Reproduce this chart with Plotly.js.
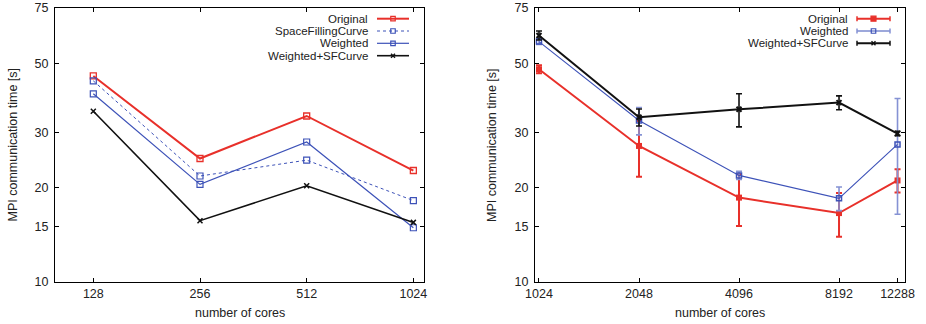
<!DOCTYPE html>
<html>
<head>
<meta charset="utf-8">
<script src="https://cdn.plot.ly/plotly-3.0.1.min.js"></script>
<style>html,body{margin:0;padding:0;background:#fff;}#chart{width:926px;height:324px;}</style>
</head>
<body>
<div id="chart"></div>
<script>
// ---- data (left panel) ----
const coresLeft = [128, 256, 512, 1024];
const leftOriginal = [45.5, 24.8, 33.9, 22.7];
const leftSFC = [43.9, 21.8, 24.5, 18.2];
const leftWeighted = [39.9, 20.5, 28.0, 14.9];
const leftWSFC = [35.1, 15.7, 20.3, 15.5];

// ---- data (right panel) ----
const coresRight = [1024, 2048, 4096, 8192, 12288];
const rightOriginal = [47.8, 27.2, 18.6, 16.6, 21.1];
const rightOriginalErr = [1.4, 5.5, 3.5, 2.65, 1.8];
const rightWeighted = [58.6, 32.8, 21.9, 18.5, 27.5];
const rightWeightedErr = [1.2, 3.3, 0.65, 1.6, 11.05];
const rightWSFC = [61.3, 33.6, 35.6, 37.4, 29.8];
const rightWSFCErr = [2.0, 2.1, 4.3, 1.9, 0.5];

const yTicks = [10, 15, 20, 30, 50, 75];
const leftLabels = ['Original', 'SpaceFillingCurve', 'Weighted', 'Weighted+SFCurve'];
const rightLabels = ['Original', 'Weighted', 'Weighted+SFCurve'];

const RED = '#e8302a', BLUE = '#3d52b8', BLUE_ERR = '#8592d4', BLACK = '#111111';
const FONT = 'Liberation Sans, Arial, sans-serif';
const W = 926, H = 324;
const px = x => x / W, py = y => 1 - y / H;

const traces = [
  {x: coresLeft, y: leftOriginal, xaxis: 'x', yaxis: 'y', mode: 'lines+markers',
   line: {color: RED, width: 2}, marker: {symbol: 'square-open', size: 6, color: RED, line: {width: 1.3, color: RED}}},
  {x: coresLeft, y: leftSFC, xaxis: 'x', yaxis: 'y', mode: 'lines+markers',
   line: {color: BLUE, width: 1, dash: 'dot'}, marker: {symbol: 'square-open', size: 6, color: BLUE, line: {width: 1.2, color: BLUE}}},
  {x: coresLeft, y: leftWeighted, xaxis: 'x', yaxis: 'y', mode: 'lines+markers',
   line: {color: BLUE, width: 1.2}, marker: {symbol: 'square-open', size: 6, color: BLUE, line: {width: 1.2, color: BLUE}}},
  {x: coresLeft, y: leftWSFC, xaxis: 'x', yaxis: 'y', mode: 'lines+markers',
   line: {color: BLACK, width: 1.6}, marker: {symbol: 'x-thin', size: 5, color: BLACK, line: {width: 1.5, color: BLACK}}},

  {x: coresRight, y: rightOriginal, xaxis: 'x2', yaxis: 'y2', mode: 'lines+markers',
   line: {color: RED, width: 2}, marker: {symbol: 'square', size: 6, color: RED},
   error_y: {type: 'data', array: rightOriginalErr, visible: true, color: RED, thickness: 2, width: 3}},
  {x: coresRight, y: rightWeighted, xaxis: 'x2', yaxis: 'y2', mode: 'lines+markers',
   line: {color: BLUE, width: 1.1}, marker: {symbol: 'square-open', size: 5, color: BLUE, line: {width: 1.5, color: BLUE}},
   error_y: {type: 'data', array: rightWeightedErr, visible: true, color: BLUE_ERR, thickness: 1.6, width: 3}},
  {x: coresRight, y: rightWSFC, xaxis: 'x2', yaxis: 'y2', mode: 'lines+markers',
   line: {color: BLACK, width: 2}, marker: {symbol: 'x-thin', size: 5, color: BLACK, line: {width: 2, color: BLACK}},
   error_y: {type: 'data', array: rightWSFCErr, visible: true, color: BLACK, thickness: 1.6, width: 3}}
];

const axisCommon = {
  showline: true, linecolor: '#000', linewidth: 1, mirror: 'ticks',
  ticks: 'inside', ticklen: 4, tickcolor: '#000', tickwidth: 1,
  showgrid: false, zeroline: false,
  tickfont: {family: FONT, size: 12.5, color: '#222'}
};
const yDomain = [py(282), py(8)];

const layout = {
  width: W, height: H,
  margin: {l: 0, r: 0, t: 0, b: 0},
  paper_bgcolor: '#fff', plot_bgcolor: '#fff',
  showlegend: false,
  xaxis: Object.assign({}, axisCommon, {domain: [px(55), px(424)], anchor: 'y', type: 'log',
    range: [1.9991, 3.0403], tickvals: coresLeft, ticktext: coresLeft.map(String)}),
  yaxis: Object.assign({}, axisCommon, {domain: yDomain, anchor: 'x', type: 'log',
    range: [1, Math.log10(75)], tickvals: yTicks, ticktext: yTicks.map(String), ticklabelstandoff: 3}),
  xaxis2: Object.assign({}, axisCommon, {domain: [px(535), px(905)], anchor: 'y2', type: 'log',
    range: [2.9983, 4.112], tickvals: coresRight, ticktext: coresRight.map(String)}),
  yaxis2: Object.assign({}, axisCommon, {domain: yDomain, anchor: 'x2', type: 'log',
    range: [1, Math.log10(75)], tickvals: yTicks, ticktext: yTicks.map(String), ticklabelstandoff: 3}),
  annotations: [],
  shapes: []
};

function ann(text, x, y, opts) {
  layout.annotations.push(Object.assign({text: text, xref: 'paper', yref: 'paper', x: px(x), y: py(y),
    showarrow: false, font: {family: FONT, size: 12.5, color: '#222'}}, opts || {}));
}
// axis titles
ann('MPI communication time [s]', 12.5, 145, {textangle: -90, xanchor: 'center', yanchor: 'middle'});
ann('MPI communication time [s]', 492, 145, {textangle: -90, xanchor: 'center', yanchor: 'middle'});
ann('number of cores', 240, 312.5, {xanchor: 'center', yanchor: 'middle'});
ann('number of cores', 720, 312.5, {xanchor: 'center', yanchor: 'middle'});

function line(x0, y0, x1, y1, color, width, dash) {
  layout.shapes.push({type: 'line', xref: 'paper', yref: 'paper', x0: px(x0), y0: py(y0), x1: px(x1), y1: py(y1),
    line: {color: color, width: width, dash: dash || 'solid'}});
}
function square(cx, cy, s, color, filled) {
  layout.shapes.push({type: 'rect', xref: 'paper', yref: 'paper', x0: px(cx - s / 2), x1: px(cx + s / 2),
    y0: py(cy + s / 2), y1: py(cy - s / 2), line: {color: color, width: 1.2}, fillcolor: filled ? color : 'rgba(0,0,0,0)'});
}
function cross(cx, cy, s, color) {
  line(cx - s / 2, cy - s / 2, cx + s / 2, cy + s / 2, color, 1.4);
  line(cx - s / 2, cy + s / 2, cx + s / 2, cy - s / 2, color, 1.4);
}

const legendOpts = {xanchor: 'right', yanchor: 'middle', borderpad: 0,
  font: {family: FONT, size: 11.5, color: '#222'}};

// left legend
const leftRows = [18.7, 31, 43.3, 55.7];
const leftStyles = [
  {c: RED, w: 2, d: 'solid', m: 'sq'},
  {c: BLUE, w: 1, d: 'dot', m: 'sq'},
  {c: BLUE, w: 1.2, d: 'solid', m: 'sq'},
  {c: BLACK, w: 1.6, d: 'solid', m: 'x'}
];
leftLabels.forEach((lab, i) => {
  const y = leftRows[i], s = leftStyles[i];
  ann(lab, 368.5, y, legendOpts);
  line(377, y, 409, y, s.c, s.w, s.d);
  if (s.m === 'sq') square(393, y, 4.5, s.c, false); else cross(393, y, 4, s.c);
});

// right legend
const rightRows = [18.7, 31, 43.3];
const rightStyles = [
  {c: RED, w: 2, e: RED, m: 'sqf'},
  {c: BLUE, w: 1.1, e: BLUE_ERR, m: 'sq'},
  {c: BLACK, w: 2, e: BLACK, m: 'x'}
];
rightLabels.forEach((lab, i) => {
  const y = rightRows[i], s = rightStyles[i];
  ann(lab, 848.5, y, legendOpts);
  line(857, y, 890, y, s.c, s.w);
  line(857, y - 2.5, 857, y + 2.5, s.e, 1.5);
  line(890, y - 2.5, 890, y + 2.5, s.e, 1.5);
  if (s.m === 'sqf') square(873.5, y, 5, s.c, true);
  else if (s.m === 'sq') square(873.5, y, 4.5, s.c, false);
  else cross(873.5, y, 4, s.c);
});

Plotly.newPlot('chart', traces, layout, {displayModeBar: false, staticPlot: true});
</script>
</body>
</html>
